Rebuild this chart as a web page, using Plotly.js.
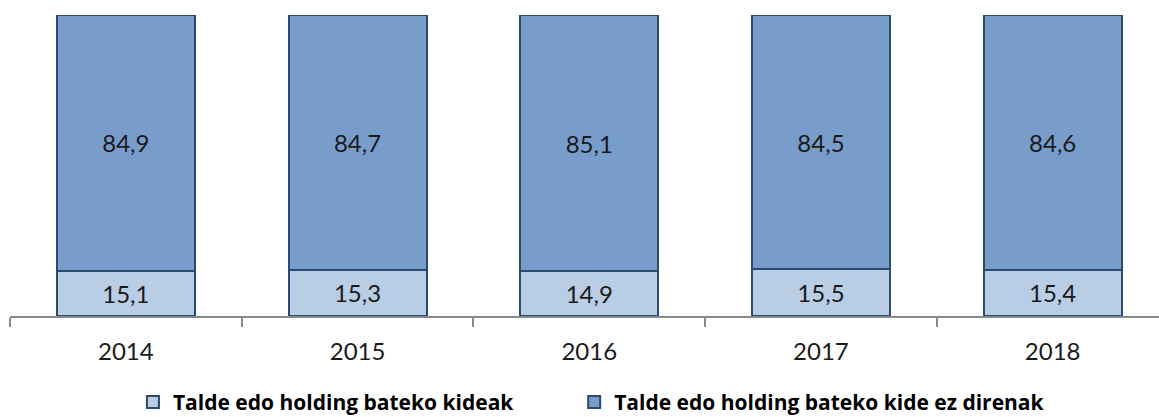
<!DOCTYPE html>
<html>
<head>
<meta charset="utf-8">
<script src="https://cdn.plot.ly/plotly-3.0.1.min.js"></script>
<style>html,body{margin:0;padding:0;background:#fff;}#chart{width:1159px;height:417px;}</style>
</head>
<body>
<div id="chart"></div>
<script>
const years = ["2014", "2015", "2016", "2017", "2018"];
const kideak = [15.1, 15.3, 14.9, 15.5, 15.4];
const ezDirenak = [84.9, 84.7, 85.1, 84.5, 84.6];
const seriesNames = ["Talde edo holding bateko kideak", "Talde edo holding bateko kide ez direnak"];

const FONT = "Lato, 'Open Sans', sans-serif";
const LEGFONT = "'Open Sans', Lato, sans-serif";
const lineStyle = {color: "#2a4a70", width: 2};

const traces = [
  {
    type: "bar", name: seriesNames[0], x: years, y: kideak, legend: "legend",
    marker: {color: "#b9cde5", line: lineStyle},
    texttemplate: "%{y:.1f}", textposition: "inside", insidetextanchor: "middle",
    textangle: 0, constraintext: "none",
    textfont: {family: FONT, size: 24, color: "#1a1a1a"},
    hoverinfo: "none"
  },
  {
    type: "bar", name: seriesNames[1], x: years, y: ezDirenak, legend: "legend2",
    marker: {color: "#789dca", line: lineStyle},
    texttemplate: "%{y:.1f}", textposition: "inside", insidetextanchor: "middle",
    textangle: 0, constraintext: "none",
    textfont: {family: FONT, size: 24, color: "#1a1a1a"},
    hoverinfo: "none"
  }
];

const legendBase = {
  orientation: "h", xanchor: "left",
  yref: "container", y: 0.035, yanchor: "middle",
  font: {family: LEGFONT, size: 21, color: "#000000", weight: "bold"},
  bgcolor: "rgba(0,0,0,0)"
};

const layout = {
  width: 1159, height: 417,
  margin: {l: 10, r: 0, t: 15, b: 101, pad: 0, autoexpand: false},
  paper_bgcolor: "#ffffff", plot_bgcolor: "#ffffff",
  barmode: "stack", bargap: 0.404,
  separators: ",.",
  font: {family: FONT, color: "#1a1a1a"},
  showlegend: true,
  legend: Object.assign({}, legendBase, {x: 0.107}),
  legend2: Object.assign({}, legendBase, {x: 0.491}),
  xaxis: {
    type: "category", range: [-0.5, 4.459], fixedrange: true,
    tickson: "boundaries", ticks: "outside", ticklen: 9, tickwidth: 2, tickcolor: "#898989",
    ticklabelstandoff: 13,
    showline: true, linecolor: "#898989", linewidth: 2,
    showgrid: false, zeroline: false,
    tickfont: {family: FONT, size: 24, color: "#1a1a1a"}
  },
  yaxis: {
    range: [0, 100], visible: false, showgrid: false, zeroline: false, fixedrange: true
  }
};

Plotly.newPlot("chart", traces, layout, {displayModeBar: false, staticPlot: true});
</script>
</body>
</html>
